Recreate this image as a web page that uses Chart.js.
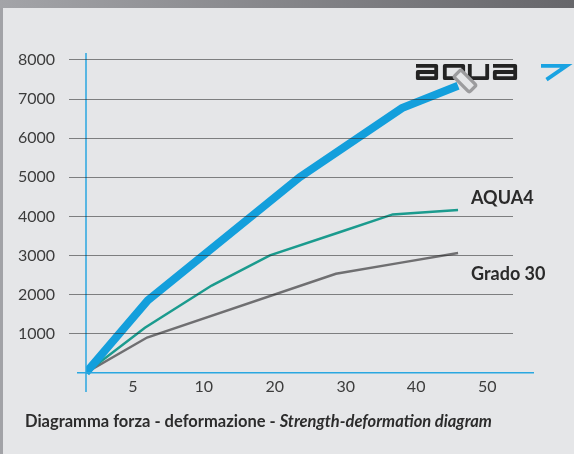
<!DOCTYPE html>
<html>
<head>
<meta charset="utf-8">
<script src="https://cdn.jsdelivr.net/npm/chart.js@4"></script>
<style>
  html, body { margin: 0; padding: 0; }
  body { width: 574px; height: 454px; position: relative; overflow: hidden; background: #e5e6e8; font-family: Lato, "Open Sans", sans-serif; }
  #topband { position: absolute; left: 0; top: 0; width: 574px; height: 8px; background: linear-gradient(to right, #a3a4a8, #66666a); }
  #leftband { position: absolute; left: 0; top: 8px; width: 3px; height: 446px; background: #a2a3a7; }
  #chart { position: absolute; left: 0; top: 0; }
  .tag { position: absolute; font-weight: bold; font-size: 18px; line-height: 1; color: #2a2a2a; }
  #caption { position: absolute; left: 25px; top: 411px; font-weight: bold; font-size: 16.5px; line-height: 20px; color: #2c2c2c; white-space: nowrap; }
  #logo { position: absolute; left: 410px; top: 55px; }
</style>
</head>
<body>
<div id="topband"></div>
<div id="leftband"></div>
<canvas id="chart" width="574" height="454"></canvas>
<div class="tag" style="left:471px; top:188px;">AQUA4</div>
<div class="tag" style="left:471px; top:264px;">Grado 30</div>
<div id="caption">Diagramma forza - deformazione - <i>Strength-deformation diagram</i></div>
<svg id="logo" width="164" height="45" viewBox="410 55 164 45" aria-label="aqua7">
  <title>aqua7</title>
  <g fill="none" stroke="#232323" stroke-width="3.8" stroke-linejoin="round">
    <path d="M416,65.8 H436.2 V78.2 H417.8 V72 H436.2"/>
    <path d="M463.2,76 V65.8 H444.8 V78.2 H455"/>
    <path d="M469.8,64 V78.2 H487.2 V64"/>
    <path d="M493,65.8 H515.2 V78.2 H494.8 V72 H515.2"/>
  </g>
  <rect x="454" y="76" width="22" height="10" rx="2" transform="rotate(45 465 81)" fill="#e5e6e8" stroke="#9c9c9e" stroke-width="3.4"/>
  <path d="M541,65.8 H566.5 L546.5,79.6" fill="none" stroke="#1aa3e2" stroke-width="3.8"/>
</svg>
<script>
"use strict";

// x positions are in chart units along the axis (origin = 0)
const xTickPos = [6.6, 16.6, 26.6, 36.6, 46.5, 56.5];
const xTickLabels = ["5", "10", "20", "30", "40", "50"];
const yTicks = [1000, 2000, 3000, 4000, 5000, 6000, 7000, 8000];

const aqua7X = [0, 8.7, 30.1, 44.5, 52.4];
const aqua7Y = [0, 1850, 5000, 6770, 7340];

const aqua4X = [0, 8.3, 17.7, 25.9, 35.8, 43.2, 52.4];
const aqua4Y = [0, 1150, 2230, 3000, 3600, 4050, 4160];

const grado30X = [0, 8.6, 35.2, 44.2, 52.4];
const grado30Y = [0, 900, 2530, 2810, 3060];

function toPoints(xs, ys) {
  return xs.map((x, i) => ({ x: x, y: ys[i] }));
}

const tickFont = { family: "Lato", size: 16 };
const tickColor = "#3c3c3c";
const axisBlue = "#2aa7e0";

// blue axes: horizontal one at y = 0, vertical one at x = 0, both overshooting a bit
const axisLines = {
  id: "axisLines",
  afterDatasetsDraw(chart) {
    const { ctx, chartArea, scales } = chart;
    const y0 = scales.y.getPixelForValue(0);
    const x0 = scales.x.getPixelForValue(0);
    ctx.save();
    ctx.strokeStyle = axisBlue;
    ctx.lineWidth = 1.5;
    ctx.beginPath();
    ctx.moveTo(chartArea.left - 9, y0);
    ctx.lineTo(chartArea.right + 21, y0);
    ctx.moveTo(x0, chartArea.top);
    ctx.lineTo(x0, chartArea.bottom + 15);
    ctx.stroke();
    ctx.restore();
  }
};

const ctx = document.getElementById("chart").getContext("2d");
new Chart(ctx, {
  type: "line",
  data: {
    datasets: [
      {
        label: "aqua7",
        data: toPoints(aqua7X, aqua7Y),
        borderColor: "#139fdc",
        borderWidth: 8,
        pointRadius: 0,
        tension: 0
      },
      {
        label: "AQUA4",
        data: toPoints(aqua4X, aqua4Y),
        borderColor: "#1b9b8e",
        borderWidth: 2.5,
        pointRadius: 0,
        tension: 0
      },
      {
        label: "Grado 30",
        data: toPoints(grado30X, grado30Y),
        borderColor: "#6f6f71",
        borderWidth: 2.5,
        pointRadius: 0,
        tension: 0
      }
    ]
  },
  options: {
    responsive: false,
    animation: false,
    layout: { padding: { top: 53, right: 61, left: 0, bottom: 0 } },
    plugins: {
      legend: { display: false },
      tooltip: { enabled: false }
    },
    scales: {
      x: {
        type: "linear",
        min: 0,
        max: 60.14,
        afterBuildTicks: function (scale) {
          scale.ticks = xTickPos.map(v => ({ value: v }));
        },
        afterFit: function (scale) {
          scale.height = 77;
        },
        ticks: {
          callback: function (value) {
            return xTickLabels[xTickPos.indexOf(value)];
          },
          autoSkip: false,
          maxRotation: 0,
          padding: 0,
          color: tickColor,
          font: tickFont
        },
        grid: { display: false, drawTicks: false },
        border: { display: false }
      },
      y: {
        min: -110,
        max: 8179,
        afterBuildTicks: function (scale) {
          scale.ticks = yTicks.map(v => ({ value: v }));
        },
        afterFit: function (scale) {
          scale.width = 86;
        },
        ticks: {
          callback: function (value) {
            return String(value);
          },
          padding: 14,
          color: tickColor,
          font: tickFont
        },
        grid: {
          color: "rgba(40,40,40,0.55)",
          lineWidth: 1,
          tickLength: 17,
          z: 1
        },
        border: { display: false }
      }
    }
  },
  plugins: [axisLines]
});
</script>
</body>
</html>
